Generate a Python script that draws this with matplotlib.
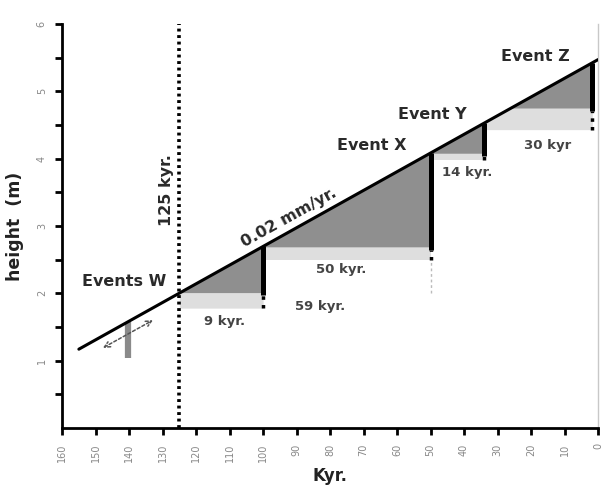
import matplotlib
matplotlib.use("Agg")
import matplotlib.pyplot as plt
import numpy as np

# Uplift line (age in kyr, height in m)
line_kyr = [155, 0]
line_h = [1.17, 5.47]

# Terrace steps: start of each wedge, the event (vertical bar), base level, bottom of light band
wedge_start = [125, 100, 50, 34]
event_kyr = [100, 50, 34, 1.7]
base_h = [2.01, 2.69, 4.08, 4.75]
band_low = [1.78, 2.50, 3.98, 4.43]

# Axis ticks
x_ticks = np.arange(0, 161, 10)
y_ticks = [1, 2, 3, 4, 5, 6]
y_minor = np.arange(0.5, 6.0, 1.0)

# Labels
event_labels = [("Events W", 141.5, 2.17), ("Event X", 67.5, 4.19),
                ("Event Y", 49.5, 4.65), ("Event Z", 18.8, 5.51)]
span_labels = [("9 kyr.", 111.4, 1.58), ("59 kyr.", 83.1, 1.80), ("50 kyr.", 76.6, 2.36),
               ("14 kyr.", 39.0, 3.80), ("30 kyr", 15.2, 4.20)]


def line_at(k):
    # line_kyr is descending, so flip for interp
    return np.interp(k, line_kyr[::-1], line_h[::-1])


fig = plt.figure(figsize=(6.09, 4.88), dpi=100)
ax = fig.add_axes([0.102, 0.123, 0.880, 0.828])
ax.set_xlim(160, 0)
ax.set_ylim(0, 6)

for s, e, b, lo in zip(wedge_start, event_kyr, base_h, band_low):
    xs = np.linspace(s, e, 200)
    top = line_at(xs)
    # dark wedge between line and base level
    ax.fill_between(xs, b, top, where=top >= b, color="#8f8f8f", linewidth=0, zorder=1)
    # light band under the base level
    ax.fill_between(xs, lo, np.minimum(b, top), color="#dedede", linewidth=0, zorder=0.9)
    # event bar
    ax.vlines(e, b - 0.04, line_at(e), color="black", linewidth=3.6, zorder=3)
    ax.vlines(e, lo, b - 0.04, color="black", linewidth=2.5, linestyles=(0, (1, 1.5)), zorder=3)

# thin extension below event X
ax.vlines(event_kyr[1], base_h[0], band_low[1], color="#bbbbbb", linewidth=1, linestyles=(0, (2, 2)), zorder=1)

# uplift line
ax.plot(line_kyr, line_h, color="black", linewidth=2.2, solid_capstyle="round", zorder=4)

# 125 kyr marker
ax.axvline(125, color="black", linewidth=2.6, linestyle=(0, (0.8, 1.0)), zorder=2)

# grey bar and double arrow at lower left
ax.vlines(140.3, 1.04, line_at(140.3), color="#8a8a8a", linewidth=4.5, zorder=2)
ax.annotate("", xy=(132.9, 1.60), xytext=(147.8, 1.19),
            arrowprops=dict(arrowstyle="<->", color="#555555", lw=1.1, linestyle=(0, (2, 1.5)),
                            shrinkA=0, shrinkB=0, mutation_scale=10), zorder=3)

bold = dict(family="DejaVu Sans", fontweight="bold", color="#2a2a2a")
for txt, x, y in event_labels:
    ax.text(x, y, txt, ha="center", va="center", fontsize=11.5, **bold)
for txt, x, y in span_labels:
    ax.text(x, y, txt, ha="center", va="center", fontsize=9.5, family="DejaVu Sans",
            fontweight="bold", color="#444444")
ax.text(92.4, 3.12, "0.02 mm/yr.", ha="center", va="center", rotation=29, fontsize=11.5, **bold)
ax.text(128.7, 3.54, "125 kyr.", ha="center", va="center", rotation=90, fontsize=11.5, **bold)

# axes styling
ax.spines["top"].set_visible(False)
ax.spines["right"].set_color("#c8c8c8")
ax.spines["right"].set_linewidth(1.0)
ax.spines["left"].set_linewidth(2.0)
ax.spines["bottom"].set_linewidth(2.0)

ax.set_xticks(x_ticks)
ax.set_xticklabels([str(v) for v in x_ticks], rotation=90, fontsize=7, color="#888888")
ax.set_yticks(y_ticks)
ax.set_yticklabels([str(v) for v in y_ticks], rotation=90, fontsize=7, color="#888888", va="center")
ax.set_yticks(y_minor, minor=True)
ax.tick_params(axis="both", which="both", direction="out", width=2, length=5, pad=6)
ax.tick_params(axis="y", which="minor", length=5, width=2)
ax.tick_params(axis="y", pad=6)

ax.set_xlabel("Kyr.", fontsize=12, fontweight="bold", color="#222222", labelpad=4)
ax.set_ylabel("height  (m)", fontsize=12.5, fontweight="bold", color="#222222", labelpad=9)

fig.savefig("out.png", dpi=100)
